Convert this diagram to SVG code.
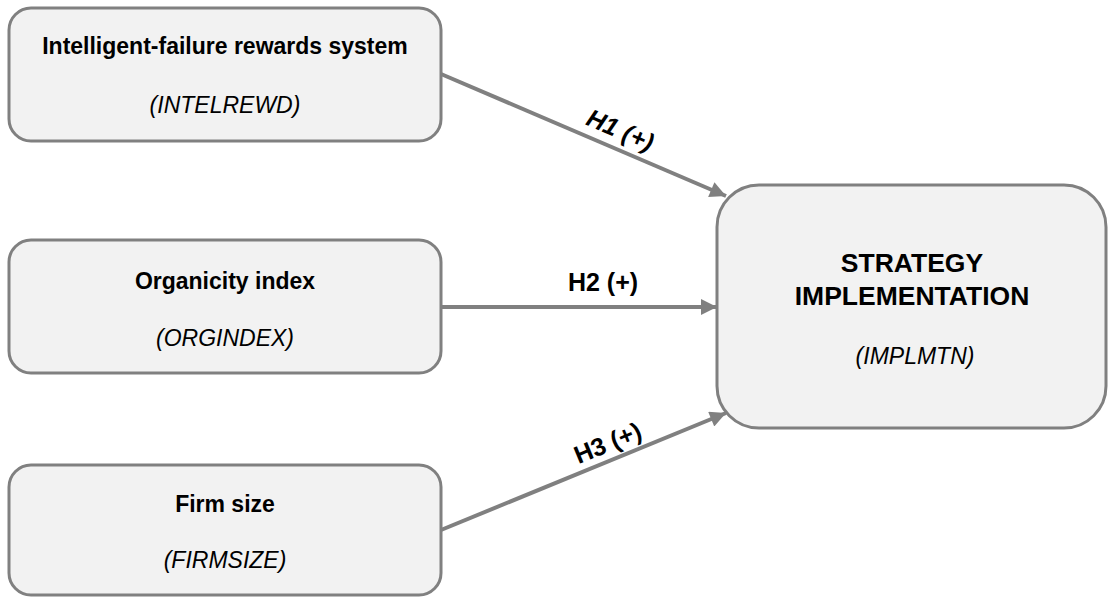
<svg xmlns="http://www.w3.org/2000/svg" width="1108" height="597" viewBox="0 0 1108 597">
<style>
.box{fill:#f2f2f2;stroke:#808080;stroke-width:3}
.t{font-family:"Liberation Sans",Arial,sans-serif;font-size:23px;font-weight:bold;fill:#000;text-anchor:middle}
.i{font-family:"Liberation Sans",Arial,sans-serif;font-size:23px;font-style:italic;fill:#000;text-anchor:middle}
.big{font-family:"Liberation Sans",Arial,sans-serif;font-size:26.5px;font-weight:bold;fill:#000;text-anchor:middle}
.lab{font-family:"Liberation Sans",Arial,sans-serif;font-size:25px;font-weight:bold;fill:#000;text-anchor:middle}
.c{stroke:#808080;stroke-width:4;fill:none}
</style>
<defs>
<marker id="ah" viewBox="0 0 10 10" refX="10" refY="5" markerWidth="4.5" markerHeight="4" markerUnits="strokeWidth" orient="auto">
<path d="M0,0 L10,5 L0,10 z" fill="#808080"/>
</marker>
</defs>
<g id="connectors">
<line class="c" x1="441" y1="74" x2="726" y2="196" marker-end="url(#ah)"/>
<line class="c" x1="441" y1="307" x2="717" y2="307" marker-end="url(#ah)"/>
<line class="c" x1="441" y1="530" x2="726" y2="413" marker-end="url(#ah)"/>
<text class="lab" transform="translate(617,138) rotate(23.2)" font-style="italic">H1 (+)</text>
<text class="lab" x="603" y="291">H2 (+)</text>
<text class="lab" transform="translate(611,451) rotate(-22.4)">H3 (+)</text>
</g>
<g id="n1">
<rect class="box" x="9" y="8" width="432" height="133" rx="22"/>
<text class="t" x="225" y="54">Intelligent-failure rewards system</text>
<text class="i" x="225" y="113">(INTELREWD)</text>
</g>
<g id="n2">
<rect class="box" x="9" y="240" width="432" height="133" rx="22"/>
<text class="t" x="225" y="289">Organicity index</text>
<text class="i" x="225" y="346">(ORGINDEX)</text>
</g>
<g id="n3">
<rect class="box" x="9" y="465" width="432" height="130" rx="22"/>
<text class="t" x="225" y="512">Firm size</text>
<text class="i" x="225" y="568">(FIRMSIZE)</text>
</g>
<g id="n4">
<rect class="box" x="717" y="185" width="389" height="243" rx="42"/>
<text class="big" x="912" y="272">STRATEGY</text>
<text class="big" x="912" y="305">IMPLEMENTATION</text>
<text class="i" x="915" y="364">(IMPLMTN)</text>
</g>
</svg>
